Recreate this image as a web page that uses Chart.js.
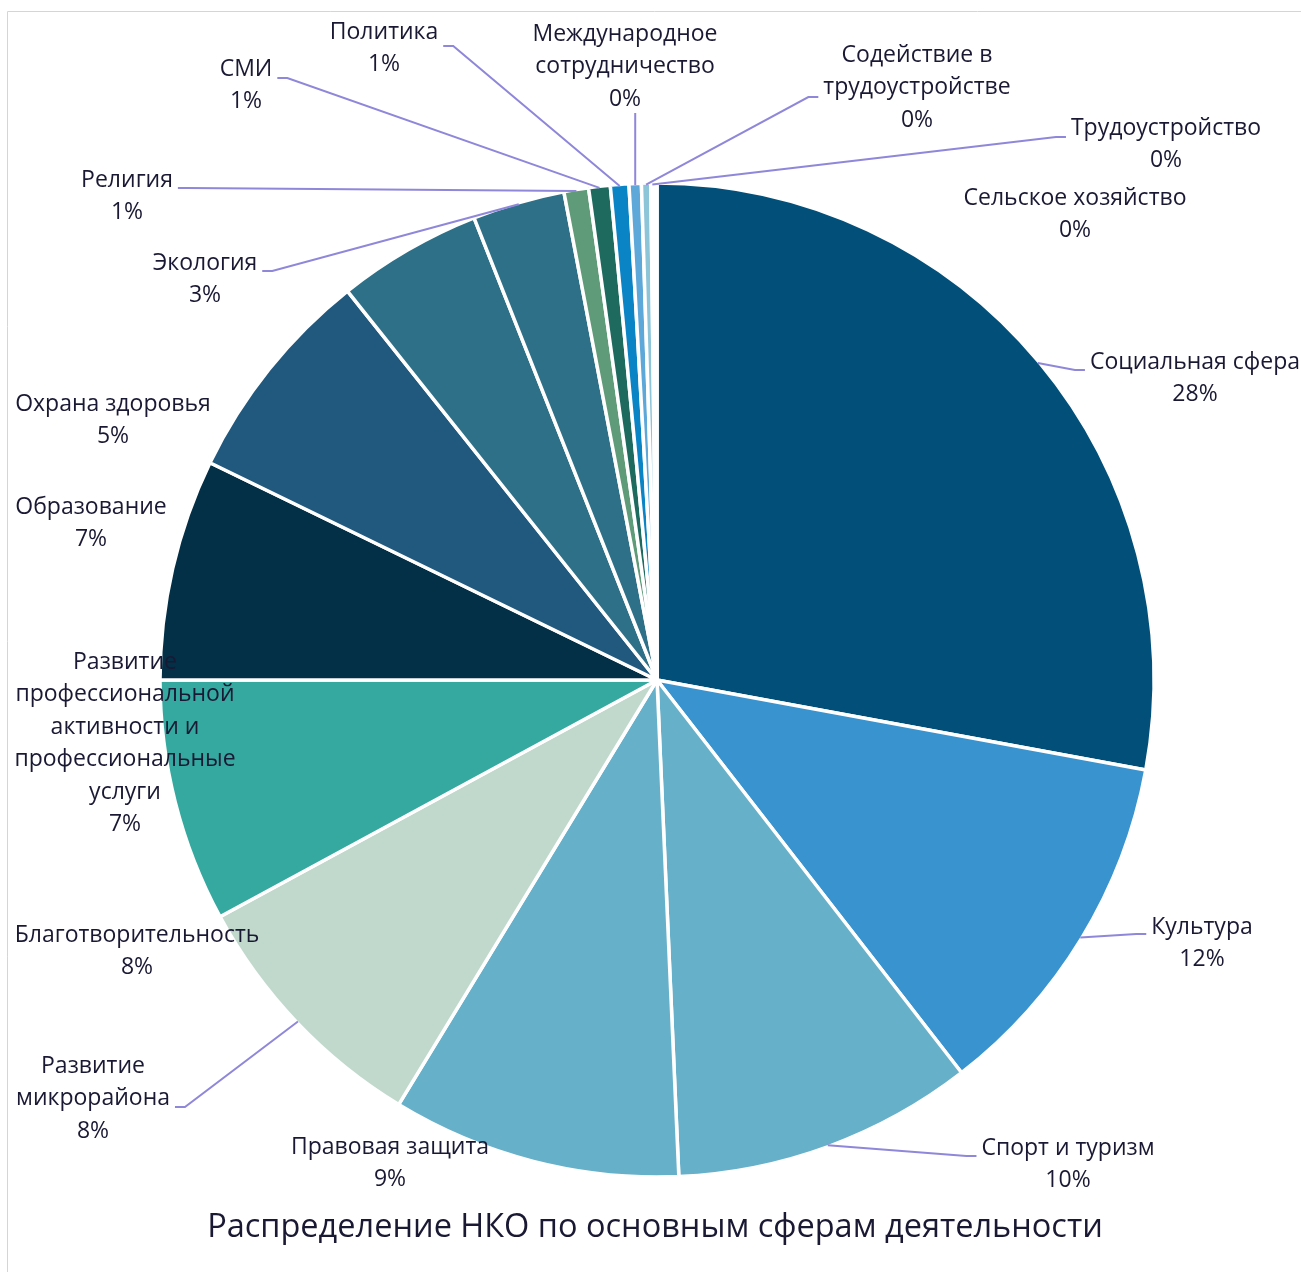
<!DOCTYPE html>
<html lang="ru">
<head>
<meta charset="utf-8">
<title>Распределение НКО по основным сферам деятельности</title>
<script src="https://cdn.jsdelivr.net/npm/chart.js@4.4.1/dist/chart.umd.min.js"></script>
<style>
  html, body { margin: 0; padding: 0; background: #fff; }
  #wrap { width: 1301px; height: 1272px; position: relative; }
</style>
</head>
<body>
<div id="wrap"><canvas id="nkoChart" width="1301" height="1272"></canvas></div>
<script>
const chartTitle = 'Распределение НКО по основным сферам деятельности';

const categories = [
    'Социальная сфера',
    'Культура',
    'Спорт и туризм',
    'Правовая защита',
    'Развитие\nмикрорайона',
    'Благотворительность',
    'Развитие\nпрофессиональной\nактивности и\nпрофессиональные\nуслуги',
    'Образование',
    'Охрана здоровья',
    'Экология',
    'Религия',
    'СМИ',
    'Политика',
    'Международное\nсотрудничество',
    'Содействие в\nтрудоустройстве',
    'Трудоустройство',
    'Сельское хозяйство'
];

// number of organisations per field
const counts = [279, 116, 98, 94, 84, 79, 72, 71, 47, 30, 8, 7, 6, 4, 3, 1, 1];

const sliceColors = [
    '#02507a', '#3893cf', '#67b0c9', '#67b0c9', '#c1d9cc', '#35a9a0',
    '#033047', '#21597e', '#2e7087', '#2e7087', '#5f9b78', '#1e6a5f',
    '#0a84c5', '#5ea8d9', '#8cc4d8', '#a7d3dd', '#cfe6ec'
];

// where each label sits: centre x, first line y, side the leader comes in from, leader y offset
const labelLayout = [
    [1195, 362, 'left', 8],
    [1202, 927, 'left', 7],
    [1068, 1148, 'left', 8],
    [390, 1147, null, 0],
    [93, 1066, 'right', 41],
    [137, 935, null, 0],
    [125, 662, null, 0],
    [91, 507, null, 0],
    [113, 404, null, 0],
    [205, 263, 'right', 8],
    [127, 180, 'right', 8],
    [246, 69, 'right', 9],
    [384, 32, 'right', 14],
    [625, 34, 'bottom', 0],
    [917, 55, 'left', 42],
    [1166, 128, 'left', 9],
    [1075, 198, null, 0]
];

const FONT = '"Open Sans", "Noto Sans", sans-serif';
const TEXT_COLOR = '#1a1934';
const LEADER_COLOR = '#8f87da';
const LINE_H = 32.5;

const total = counts.reduce((a, b) => a + b, 0);

const pieLabels = {
    id: 'pieLabels',
    beforeDraw(chart) {
        // thin frame on the left and top edge
        const ctx = chart.ctx;
        ctx.save();
        ctx.strokeStyle = '#d4d0f2';
        ctx.lineWidth = 1;
        ctx.beginPath();
        ctx.moveTo(7.5, chart.height);
        ctx.lineTo(7.5, 11.5);
        ctx.lineTo(chart.width, 11.5);
        ctx.stroke();
        ctx.restore();
    },
    afterDatasetsDraw(chart) {
        const ctx = chart.ctx;
        const meta = chart.getDatasetMeta(0);
        ctx.save();
        ctx.font = '23px ' + FONT;
        ctx.textAlign = 'center';
        ctx.textBaseline = 'middle';

        meta.data.forEach((arc, i) => {
            const p = arc.getProps(['x', 'y', 'startAngle', 'endAngle', 'outerRadius'], true);
            const pct = Math.round(counts[i] / total * 100) + '%';
            const lines = categories[i].split('\n').concat(pct);
            const [cx, y0, side, dy] = labelLayout[i];
            const w = Math.max(...lines.map(l => ctx.measureText(l).width));

            if (side) {
                const mid = (p.startAngle + p.endAngle) / 2;
                const r = p.outerRadius - 1.5;
                const sx = p.x + Math.cos(mid) * r;
                const sy = p.y + Math.sin(mid) * r;
                let pts;
                if (side === 'left') {
                    const ex = cx - w / 2 - 5, ey = y0 + dy;
                    pts = [[sx, sy], [ex - 10, ey], [ex, ey]];
                } else if (side === 'right') {
                    const ex = cx + w / 2 + 5, ey = y0 + dy;
                    pts = [[sx, sy], [ex + 10, ey], [ex, ey]];
                } else {
                    const ey = y0 + (lines.length - 1) * LINE_H + 14;
                    pts = [[sx, sy], [sx, ey]];
                }
                ctx.strokeStyle = LEADER_COLOR;
                ctx.lineWidth = 2;
                ctx.beginPath();
                pts.forEach((pt, k) => k ? ctx.lineTo(pt[0], pt[1]) : ctx.moveTo(pt[0], pt[1]));
                ctx.stroke();
            }

            ctx.fillStyle = TEXT_COLOR;
            lines.forEach((l, k) => ctx.fillText(l, cx, y0 + k * LINE_H));
        });

        ctx.font = '32.5px ' + FONT;
        ctx.fillStyle = TEXT_COLOR;
        ctx.fillText(chartTitle, 655, 1228);
        ctx.restore();
    }
};

const ctx = document.getElementById('nkoChart').getContext('2d');
new Chart(ctx, {
    type: 'pie',
    data: {
        labels: categories.map(c => c.replace(/\n/g, ' ')),
        datasets: [{
            data: counts,
            backgroundColor: sliceColors,
            borderColor: '#ffffff',
            borderWidth: 3.5
        }]
    },
    options: {
        responsive: false,
        animation: false,
        devicePixelRatio: 1,
        radius: 497,
        layout: { padding: { top: 185, bottom: 97, left: 162, right: 149 } },
        plugins: {
            legend: { display: false },
            tooltip: { enabled: false },
            title: { display: false }
        }
    },
    plugins: [pieLabels]
});
</script>
</body>
</html>
